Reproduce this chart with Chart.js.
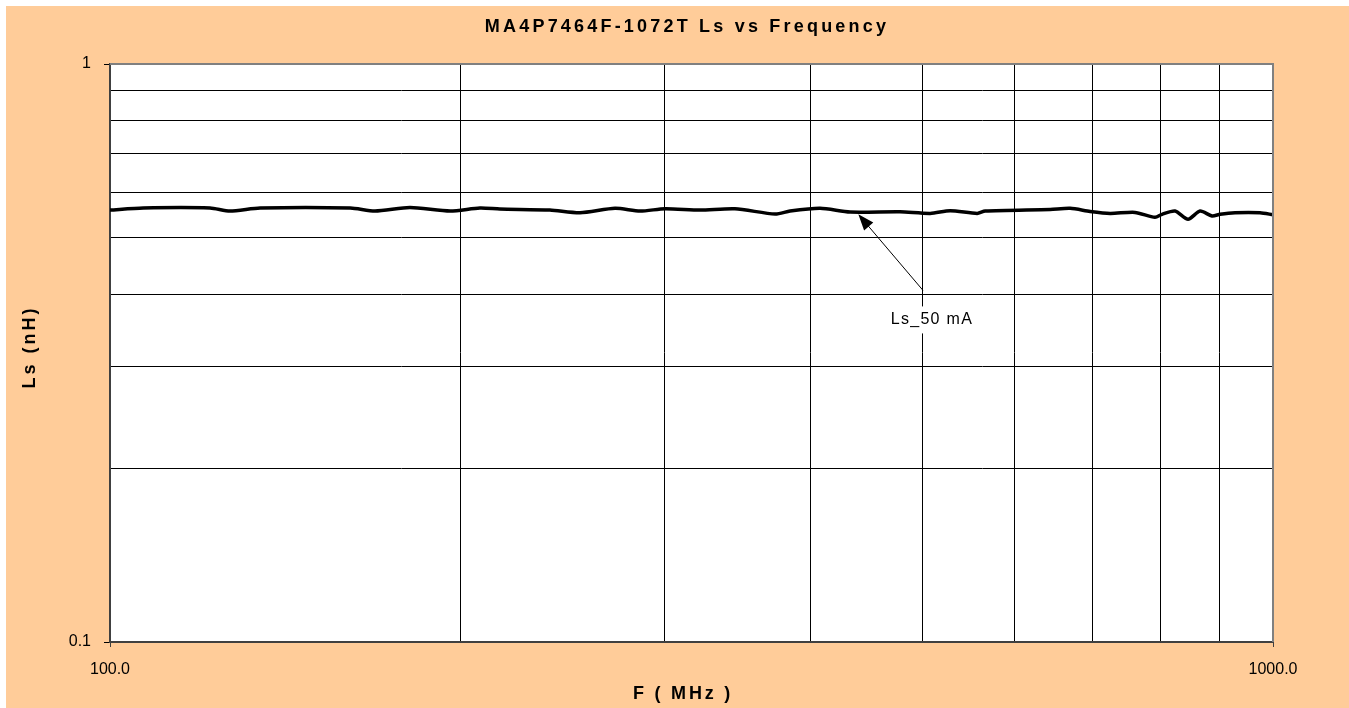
<!DOCTYPE html>
<html>
<head>
<meta charset="utf-8">
<script src="https://cdn.jsdelivr.net/npm/chart.js@4"></script>
<style>
  body { margin: 0; background: #fff; }
  canvas { display: block; }
</style>
</head>
<body>
<canvas id="lsChart" width="1349" height="708"></canvas>
<script>
// Ls vs frequency
const freqMHz = [100, 106.8, 121.9, 126.8, 134.6, 160.9, 169.0, 181.1, 196.1, 208, 216.4, 238.9, 253.6, 271.8, 285.6, 300.1, 321.6, 344.6, 373.2, 384.4, 407.9, 432.9, 477.8, 507.3, 527.8, 556.7, 565.6, 643.3, 669.3, 696.2, 724.3, 760.9, 791.6, 802.8, 823.7, 845.2, 865.5, 886.3, 900.5, 927.6, 974.5, 1000];
const ls50mA = [0.5588, 0.5634, 0.5634, 0.5566, 0.5634, 0.5634, 0.5566, 0.5644, 0.5566, 0.5634, 0.5611, 0.5588, 0.5528, 0.5627, 0.5566, 0.5618, 0.5588, 0.5618, 0.5500, 0.5566, 0.5627, 0.5544, 0.5550, 0.5515, 0.5573, 0.5515, 0.5566, 0.5603, 0.5627, 0.5559, 0.5515, 0.5537, 0.5430, 0.5495, 0.5566, 0.5387, 0.5566, 0.5458, 0.5495, 0.5528, 0.5528, 0.5486];

const xTicks = [100, 200, 300, 400, 500, 600, 700, 800, 900, 1000];
const yTicks = [0.1, 0.2, 0.3, 0.4, 0.5, 0.6, 0.7, 0.8, 0.9, 1];
const xLabels = { 100: '100.0', 1000: '1000.0' };
const yLabels = { 0.1: '0.1', 1: '1' };

const seriesName = 'Ls_50 mA';
// where the callout arrow points and where its label sits
const calloutTip = [440, 0.5495];
const calloutTail = [500, 0.406];
const calloutText = [509, 0.3615];

const FONT = '"Liberation Sans", Arial, sans-serif';
const ORANGE = '#FFCC99';

const backdrop = {
  id: 'backdrop',
  beforeDraw(chart) {
    const { ctx, chartArea: a } = chart;
    ctx.save();
    ctx.fillStyle = '#fff';
    ctx.fillRect(0, 0, chart.width, chart.height);
    ctx.fillStyle = ORANGE;
    ctx.fillRect(6, 6, chart.width - 6, chart.height - 6);
    ctx.fillStyle = '#fff';
    ctx.fillRect(a.left, a.top, a.right - a.left, a.bottom - a.top);
    ctx.restore();
  },
  afterDraw(chart) {
    const { ctx, chartArea: a } = chart;
    const xs = chart.scales.x, ys = chart.scales.y;
    ctx.save();

    // top and right frame
    ctx.strokeStyle = '#808080';
    ctx.lineWidth = 2;
    ctx.beginPath();
    ctx.moveTo(a.left, a.top);
    ctx.lineTo(a.right, a.top);
    ctx.lineTo(a.right, a.bottom);
    ctx.stroke();

    // titles
    ctx.fillStyle = '#000';
    ctx.textAlign = 'center';
    ctx.textBaseline = 'middle';
    ctx.font = 'bold 18px ' + FONT;
    ctx.letterSpacing = '3.2px';
    ctx.fillText('MA4P7464F-1072T Ls vs Frequency', 687, 27);
    ctx.letterSpacing = '2.8px';
    ctx.fillText('F ( MHz )', 683, 694);
    ctx.save();
    ctx.translate(30, 347);
    ctx.rotate(-Math.PI / 2);
    ctx.letterSpacing = '3px';
    ctx.fillText('Ls (nH)', 0, 0);
    ctx.restore();

    // callout
    const tx = xs.getPixelForValue(calloutTip[0]), ty = ys.getPixelForValue(calloutTip[1]);
    const sx = xs.getPixelForValue(calloutTail[0]), sy = ys.getPixelForValue(calloutTail[1]);
    const lx = xs.getPixelForValue(calloutText[0]), ly = ys.getPixelForValue(calloutText[1]);
    const ang = Math.atan2(ty - sy, tx - sx);
    ctx.strokeStyle = '#000';
    ctx.lineWidth = 1;
    ctx.beginPath();
    ctx.moveTo(sx, sy);
    ctx.lineTo(tx - Math.cos(ang) * 10, ty - Math.sin(ang) * 10);
    ctx.stroke();
    ctx.beginPath();
    ctx.moveTo(tx, ty);
    ctx.lineTo(tx - Math.cos(ang) * 16 + Math.sin(ang) * 6, ty - Math.sin(ang) * 16 - Math.cos(ang) * 6);
    ctx.lineTo(tx - Math.cos(ang) * 16 - Math.sin(ang) * 6, ty - Math.sin(ang) * 16 + Math.cos(ang) * 6);
    ctx.closePath();
    ctx.fillStyle = '#000';
    ctx.fill();

    ctx.font = '16px ' + FONT;
    ctx.letterSpacing = '1.3px';
    const w = ctx.measureText(seriesName).width;
    ctx.fillStyle = '#fff';
    ctx.fillRect(lx - w / 2 - 8, ly - 13, w + 16, 27);
    ctx.fillStyle = '#000';
    ctx.fillText(seriesName, lx, ly);
    ctx.restore();
  }
};

new Chart(document.getElementById('lsChart'), {
  type: 'line',
  data: {
    datasets: [{
      label: seriesName,
      data: freqMHz.map((f, i) => ({ x: f, y: ls50mA[i] })),
      borderColor: '#000',
      borderWidth: 3.5,
      pointRadius: 0,
      tension: 0.25,
      fill: false
    }]
  },
  options: {
    responsive: false,
    animation: false,
    layout: { padding: { left: 0, top: 64, right: 76, bottom: 0 } },
    plugins: {
      legend: { display: false },
      title: { display: false },
      tooltip: { enabled: false }
    },
    scales: {
      x: {
        type: 'logarithmic',
        min: 100,
        max: 1000,
        afterFit: s => { s.height = 66; },
        afterBuildTicks: s => { s.ticks = xTicks.map(v => ({ value: v })); },
        border: { display: true, color: '#404040', width: 2 },
        grid: {
          color: '#000',
          lineWidth: 1,
          tickLength: 5,
          tickColor: c => (xLabels[c.tick && c.tick.value] ? '#404040' : 'rgba(0,0,0,0)')
        },
        ticks: {
          autoSkip: false,
          maxRotation: 0,
          padding: 13,
          color: '#000',
          font: { family: FONT, size: 16 },
          callback: v => xLabels[v] || ''
        }
      },
      y: {
        type: 'logarithmic',
        min: 0.1,
        max: 1,
        afterFit: s => { s.width = 110; },
        afterBuildTicks: s => { s.ticks = yTicks.map(v => ({ value: v })); },
        border: { display: true, color: '#404040', width: 2 },
        grid: {
          color: '#000',
          lineWidth: 1,
          tickLength: 6,
          tickColor: c => (yLabels[c.tick && c.tick.value] ? '#000' : 'rgba(0,0,0,0)')
        },
        ticks: {
          autoSkip: false,
          padding: 13,
          color: '#000',
          font: { family: FONT, size: 16 },
          callback: v => yLabels[v] || ''
        }
      }
    }
  },
  plugins: [backdrop]
});
</script>
</body>
</html>
